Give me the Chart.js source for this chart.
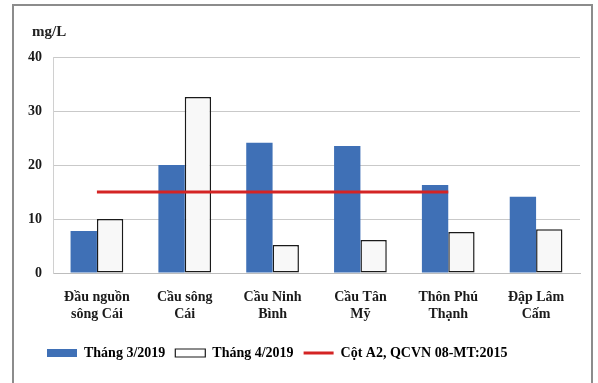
<!DOCTYPE html>
<html>
<head>
<meta charset="utf-8">
<script src="https://cdn.jsdelivr.net/npm/chart.js@4.4.1/dist/chart.umd.min.js"></script>
<style>
  html, body { margin: 0; padding: 0; background: #fff; }
  #wrap { position: relative; width: 598px; height: 383px; overflow: hidden; }
  #frame { position: absolute; left: 12px; top: 4px; width: 581px; height: 400px;
           border: 2px solid #8c8c8c; box-sizing: border-box; }
  canvas { position: absolute; left: 0; top: 0; }
</style>
</head>
<body>
<div id="wrap">
  <div id="frame"></div>
  <canvas id="c" width="598" height="383"></canvas>
</div>
<script>
// Monitoring sites along the river
const sites = [
  ['Đầu nguồn', 'sông Cái'],
  ['Cầu sông', 'Cái'],
  ['Cầu Ninh', 'Bình'],
  ['Cầu Tân', 'Mỹ'],
  ['Thôn Phú', 'Thạnh'],
  ['Đập Lâm', 'Cấm']
];
// Concentrations, mg/L
const march2019 = [7.8, 20.0, 24.1, 23.5, 16.3, 14.1];
const april2019 = [10.0, 32.6, 5.2, 6.1, 7.6, 8.1];
// QCVN 08-MT:2015 column A2 limit
const limitA2 = [15, 15, 15, 15, 15, null];
const yTicks = [0, 10, 20, 30, 40];
const seriesNames = ['Tháng 3/2019', 'Tháng 4/2019', 'Cột A2, QCVN 08-MT:2015'];
const unitLabel = 'mg/L';

const serif = '"Liberation Serif", "Times New Roman", serif';

// Axis unit written above the value axis
const unitPlugin = {
  id: 'unitLabel',
  afterDraw(chart) {
    const ctx = chart.ctx;
    ctx.save();
    ctx.font = 'bold 15px ' + serif;
    ctx.fillStyle = '#222';
    ctx.textBaseline = 'middle';
    ctx.textAlign = 'left';
    ctx.fillText(unitLabel, 32, 32);
    ctx.restore();
  }
};

// Shift the legend row a little to the right of the layout edge
const legendShift = {
  id: 'legendShift',
  afterLayout(chart) {
    if (chart.legend) {
      chart.legend.left += 15;
      chart.legend.right += 15;
    }
  }
};

new Chart(document.getElementById('c'), {
  data: {
    labels: sites,
    datasets: [
      {
        type: 'line',
        label: seriesNames[2],
        data: limitA2,
        borderColor: '#d42424',
        backgroundColor: '#d42424',
        borderWidth: 3,
        pointRadius: 0,
        spanGaps: false,
        order: 0
      },
      {
        type: 'bar',
        label: seriesNames[0],
        data: march2019,
        backgroundColor: '#3f70b6',
        borderWidth: 0,
        categoryPercentage: 0.6,
        barPercentage: 1.0,
        order: 1
      },
      {
        type: 'bar',
        label: seriesNames[1],
        data: april2019,
        backgroundColor: '#f8f8f8',
        borderColor: '#1a1a1a',
        borderWidth: 1.5,
        borderSkipped: false,
        categoryPercentage: 0.6,
        barPercentage: 1.0,
        order: 1
      }
    ]
  },
  options: {
    responsive: false,
    animation: false,
    layout: { padding: { top: 57, right: 18, bottom: 13, left: 22 } },
    plugins: {
      tooltip: { enabled: false },
      legend: {
        position: 'bottom',
        align: 'start',
        labels: {
          font: { family: serif, size: 14, weight: 'bold' },
          color: '#1a1a1a',
          padding: 10,
          boxWidth: 30,
          boxHeight: 8,
          usePointStyle: true,
          pointStyleWidth: 30,
          generateLabels(chart) {
            const ds = chart.data.datasets;
            return [
              { text: seriesNames[0], pointStyle: 'rect', fillStyle: ds[1].backgroundColor, strokeStyle: ds[1].backgroundColor, lineWidth: 0, datasetIndex: 1 },
              { text: seriesNames[1], pointStyle: 'rect', fillStyle: '#ffffff', strokeStyle: '#1a1a1a', lineWidth: 1.2, datasetIndex: 2 },
              { text: seriesNames[2], pointStyle: 'line', fillStyle: ds[0].borderColor, strokeStyle: ds[0].borderColor, lineWidth: 3, datasetIndex: 0 }
            ];
          }
        }
      }
    },
    scales: {
      x: {
        grid: { display: false },
        border: { color: '#bdbdbd', width: 1 },
        ticks: {
          font: { family: serif, size: 14, weight: 'bold' },
          color: '#1a1a1a',
          padding: 8,
          maxRotation: 0,
          autoSkip: false
        },
        afterFit(scale) { scale.height = 63; }
      },
      y: {
        min: 0,
        max: 40,
        afterBuildTicks(scale) { scale.ticks = yTicks.map(v => ({ value: v })); },
        grid: { color: '#c9c9c9', drawTicks: false },
        border: { color: '#d0d0d0', width: 1 },
        ticks: {
          font: { family: serif, size: 14, weight: 'bold' },
          color: '#1a1a1a',
          padding: 11
        },
        afterFit(scale) { scale.width = 31; }
      }
    }
  },
  plugins: [unitPlugin, legendShift]
});
</script>
</body>
</html>
